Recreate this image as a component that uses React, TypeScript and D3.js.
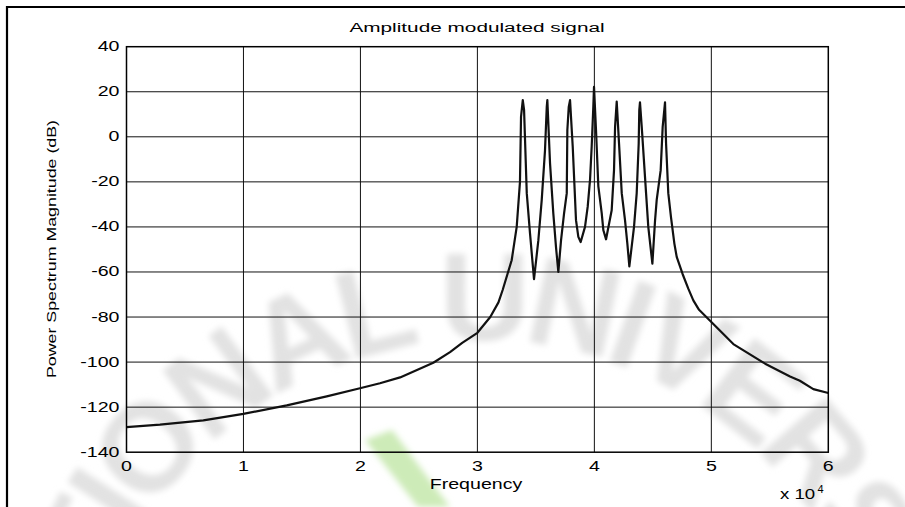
import React from "react";
import * as d3 from "d3";

// Frequency (x 10^4 Hz)
const freq: number[] = [
  0, 0.286, 0.657, 0.999, 1.37, 1.712, 1.996, 2.167, 2.339, 2.623, 2.766, 2.87, 3.0, 3.11, 3.18, 3.216,
  3.293, 3.336, 3.364, 3.373, 3.388, 3.399, 3.422, 3.45, 3.484,
  3.521, 3.55, 3.578, 3.593, 3.598, 3.621, 3.649, 3.672, 3.692,
  3.715, 3.741, 3.764, 3.769, 3.781, 3.792, 3.815, 3.843, 3.863, 3.883,
  3.92, 3.943, 3.963, 3.977, 3.991, 3.997, 4.014, 4.034, 4.063, 4.077, 4.1,
  4.148, 4.168, 4.177, 4.191, 4.211, 4.234, 4.262, 4.282, 4.299,
  4.339, 4.362, 4.379, 4.384, 4.39, 4.405, 4.442, 4.461, 4.496,
  4.519, 4.533, 4.567, 4.584, 4.604, 4.613, 4.632, 4.655, 4.684, 4.704,
  4.755, 4.803, 4.846, 4.895, 5.0, 5.188, 5.46, 5.673, 5.757, 5.872, 6.0,
];
// Power spectrum magnitude (dB)
const magnitude: number[] = [
  -128.9, -127.8, -125.9, -123.0, -119.2, -115.2, -111.6, -109.4, -106.8, -100.3, -95.6, -91.5, -87.0, -80.0, -73.5, -68.0,
  -54.8, -40.0, -20.0, 8.9, 16.3, 11.9, -25.0, -43.0, -63.2,
  -46.0, -28.0, -6.0, 13.3, 16.3, -11.8, -34.0, -49.0, -60.0,
  -46.0, -34.0, -25.0, 3.0, 13.3, 16.3, -4.4, -37.0, -44.4, -46.7,
  -40.0, -31.0, -19.0, -4.4, 13.3, 22.2, 3.0, -22.0, -34.0, -41.5, -45.5,
  -32.6, -14.8, 4.4, 15.6, -3.0, -25.0, -37.0, -47.4, -57.5,
  -40.0, -25.0, -3.0, 11.9, 15.3, 4.4, -25.0, -40.0, -56.3,
  -37.0, -28.0, -14.8, 4.4, 15.3, -3.0, -25.0, -35.6, -47.4, -53.3,
  -61.0, -67.4, -72.6, -76.8, -82.2, -92.0, -100.7, -106.4, -108.3, -112.0, -113.7,
];

const xTicks: number[] = [0, 1, 2, 3, 4, 5, 6];
const yTicks: number[] = [-140, -120, -100, -80, -60, -40, -20, 0, 20, 40];

const title = "Amplitude modulated signal";
const xLabel = "Frequency";
const yLabel = "Power Spectrum Magnitude (dB)";
const exponentBase = "x 10";
const exponent = "4";
const watermark = "NATIONAL UNIVERSITY";

const W = 905;
const H = 507;
const FONT = "'Liberation Sans', Arial, sans-serif";
const SX = 1.4; // horizontal stretch of the exported text

function Stretched(props: {
  x: number;
  y: number;
  anchor?: "start" | "middle" | "end";
  size: number;
  sx?: number;
  children: React.ReactNode;
}) {
  const { x, y, anchor = "start", size, sx = SX, children } = props;
  return (
    <g transform={`translate(${x},${y}) scale(${sx},1)`}>
      <text x={0} y={0} textAnchor={anchor} fontFamily={FONT} fontSize={size} fill="#000">
        {children}
      </text>
    </g>
  );
}

export default function App() {
  const x = d3.scaleLinear().domain([0, 6]).range([126.5, 828.3]);
  const y = d3.scaleLinear().domain([-140, 40]).range([452.2, 46.7]);

  const pts: [number, number][] = freq.map((f, i) => [f, magnitude[i]]);
  const line = d3
    .line<[number, number]>()
    .x((d) => x(d[0]))
    .y((d) => y(d[1]));

  const [x0, x1] = x.range();
  const [yb, yt] = y.range();

  // watermark arc: centre (480, 740), radius 400, from -120deg to +120deg
  const cx = 480;
  const cy = 740;
  const r = 400;
  const a0 = (-120 * Math.PI) / 180;
  const a1 = (120 * Math.PI) / 180;
  const arcPath = `M ${cx + r * Math.sin(a0)},${cy - r * Math.cos(a0)} A ${r},${r} 0 1 1 ${
    cx + r * Math.sin(a1)
  },${cy - r * Math.cos(a1)}`;

  return (
    <svg
      width={W}
      height={H}
      viewBox={`0 0 ${W} ${H}`}
      style={{ position: "absolute", left: 0, top: 0, background: "#fff" }}
    >
      <defs>
        <filter id="blur" x="-20%" y="-20%" width="140%" height="140%">
          <feGaussianBlur stdDeviation="3" />
        </filter>
        <path id="wmArc" d={arcPath} />
      </defs>
      <rect x={0} y={0} width={W} height={H} fill="#fff" />

      {/* watermark */}
      <g filter="url(#blur)">
        <text fontFamily={FONT} fontWeight="bold" fontSize={125} fill="#e2e2e2" letterSpacing={-8}>
          <textPath href="#wmArc" startOffset={200}>
            {watermark}
          </textPath>
        </text>
        <path d="M 365,440 L 392,430 L 450,507 L 418,507 Z" fill="#cdebb8" />
      </g>

      {/* outer figure frame */}
      <path d={`M 7,${H + 5} L 7,7 L ${W + 5},7`} fill="none" stroke="#000" strokeWidth={2.2} />

      {/* grid */}
      <g stroke="#111" strokeWidth={1}>
        {xTicks.slice(1, -1).map((t) => (
          <line key={`gx${t}`} x1={x(t)} x2={x(t)} y1={yb} y2={yt} />
        ))}
        {yTicks.slice(1, -1).map((t) => (
          <line key={`gy${t}`} x1={x0} x2={x1} y1={y(t)} y2={y(t)} />
        ))}
      </g>

      {/* data */}
      <path d={line(pts) || ""} fill="none" stroke="#111" strokeWidth={2.2} strokeLinejoin="round" />

      {/* axes box */}
      <rect x={x0} y={yt} width={x1 - x0} height={yb - yt} fill="none" stroke="#000" strokeWidth={1.5} />

      {/* tick labels */}
      {yTicks.map((t) => (
        <Stretched key={`ty${t}`} x={x0 - 7} y={y(t) + 4.5} anchor="end" size={14}>
          {t}
        </Stretched>
      ))}
      {xTicks.map((t) => (
        <Stretched key={`tx${t}`} x={x(t)} y={470.7} anchor="middle" size={14}>
          {t}
        </Stretched>
      ))}

      <Stretched x={477} y={32} anchor="middle" size={13.5} sx={1.54}>
        {title}
      </Stretched>
      <Stretched x={476} y={488.5} anchor="middle" size={14}>
        {xLabel}
      </Stretched>
      <Stretched x={780} y={499} size={14} sx={1.33}>
        {exponentBase}
      </Stretched>
      <Stretched x={817.5} y={493} size={10} sx={1.1}>
        {exponent}
      </Stretched>
      <text
        transform={`translate(56,249) rotate(-90)`}
        textAnchor="middle"
        fontFamily={FONT}
        fontSize={13}
        textLength={258}
        lengthAdjust="spacingAndGlyphs"
      >
        {yLabel}
      </text>
    </svg>
  );
}
